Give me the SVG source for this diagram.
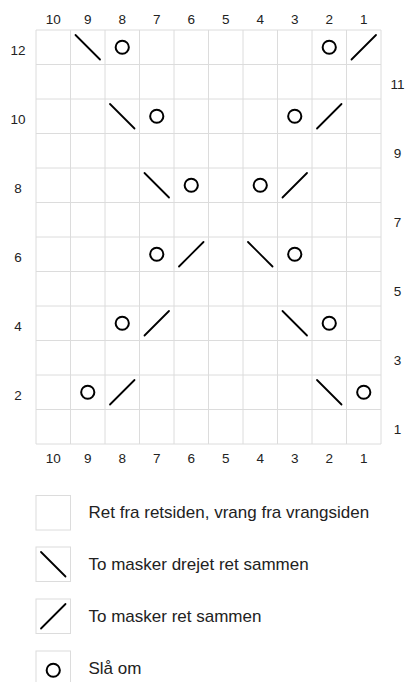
<svg xmlns="http://www.w3.org/2000/svg" width="406" height="682" viewBox="0 0 406 682">
<style>
.g{stroke:#dcdcdc;stroke-width:1;fill:none}
.s{stroke:#000;stroke-width:1.8;fill:none;stroke-linecap:round}
.o{stroke:#000;stroke-width:2;fill:none}
.n{font-family:"Liberation Sans",Arial,sans-serif;font-size:13.5px;fill:#222;text-anchor:middle}
.t{font-family:"Liberation Sans",Arial,sans-serif;font-size:17px;fill:#222}
</style>
<defs>
<path id="bs" class="s" d="M5,5 L29.5,29.5"/>
<path id="fs" class="s" d="M5,29.5 L29.5,5"/>
<circle id="yo" class="o" cx="17.25" cy="17.25" r="6.6"/>
</defs>
<rect width="406" height="682" fill="#fff"/>
<g id="grid">
<path class="g" d="M36,30H381M36,64.5H381M36,99H381M36,133.5H381M36,168H381M36,202.5H381M36,237H381M36,271.5H381M36,306H381M36,340.5H381M36,375H381M36,409.5H381M36,444H381"/>
<path class="g" d="M36,30V444M70.5,30V444M105,30V444M139.5,30V444M174,30V444M208.5,30V444M243,30V444M277.5,30V444M312,30V444M346.5,30V444M381,30V444"/>
</g>
<g id="col-labels-top">
<text class="n" x="53.25" y="24">10</text><text class="n" x="87.75" y="24">9</text><text class="n" x="122.25" y="24">8</text><text class="n" x="156.75" y="24">7</text><text class="n" x="191.25" y="24">6</text><text class="n" x="225.75" y="24">5</text><text class="n" x="260.25" y="24">4</text><text class="n" x="294.75" y="24">3</text><text class="n" x="329.25" y="24">2</text><text class="n" x="363.75" y="24">1</text>
</g>
<g id="col-labels-bottom">
<text class="n" x="53.25" y="463">10</text><text class="n" x="87.75" y="463">9</text><text class="n" x="122.25" y="463">8</text><text class="n" x="156.75" y="463">7</text><text class="n" x="191.25" y="463">6</text><text class="n" x="225.75" y="463">5</text><text class="n" x="260.25" y="463">4</text><text class="n" x="294.75" y="463">3</text><text class="n" x="329.25" y="463">2</text><text class="n" x="363.75" y="463">1</text>
</g>
<g id="row-labels">
<text class="n" x="18" y="54.75">12</text>
<text class="n" x="18" y="123.75">10</text>
<text class="n" x="18" y="192.75">8</text>
<text class="n" x="18" y="261.75">6</text>
<text class="n" x="18" y="330.75">4</text>
<text class="n" x="18" y="399.75">2</text>
<text class="n" x="397.5" y="89">11</text>
<text class="n" x="397.5" y="158">9</text>
<text class="n" x="397.5" y="227">7</text>
<text class="n" x="397.5" y="296">5</text>
<text class="n" x="397.5" y="365">3</text>
<text class="n" x="397.5" y="434">1</text>
</g>
<g id="stitches">
<use href="#bs" x="70.5" y="30"/><use href="#yo" x="105" y="30"/><use href="#yo" x="312" y="30"/><use href="#fs" x="346.5" y="30"/>
<use href="#bs" x="105" y="99"/><use href="#yo" x="139.5" y="99"/><use href="#yo" x="277.5" y="99"/><use href="#fs" x="312" y="99"/>
<use href="#bs" x="139.5" y="168"/><use href="#yo" x="174" y="168"/><use href="#yo" x="243" y="168"/><use href="#fs" x="277.5" y="168"/>
<use href="#yo" x="139.5" y="237"/><use href="#fs" x="174" y="237"/><use href="#bs" x="243" y="237"/><use href="#yo" x="277.5" y="237"/>
<use href="#yo" x="105" y="306"/><use href="#fs" x="139.5" y="306"/><use href="#bs" x="277.5" y="306"/><use href="#yo" x="312" y="306"/>
<use href="#yo" x="70.5" y="375"/><use href="#fs" x="105" y="375"/><use href="#bs" x="312" y="375"/><use href="#yo" x="346.5" y="375"/>
</g>
<g id="legend-knit">
<rect class="g" x="36" y="495.5" width="34.5" height="34.5"/>
<text class="t" x="88.5" y="517.5">Ret fra retsiden, vrang fra vrangsiden</text>
</g>
<g id="legend-ssk">
<rect class="g" x="36" y="547" width="34.5" height="34.5"/>
<use href="#bs" x="36" y="547"/>
<text class="t" x="88.5" y="570">To masker drejet ret sammen</text>
</g>
<g id="legend-k2tog">
<rect class="g" x="36" y="599" width="34.5" height="34.5"/>
<use href="#fs" x="36" y="599"/>
<text class="t" x="88.5" y="621.7">To masker ret sammen</text>
</g>
<g id="legend-yo">
<rect class="g" x="36" y="651" width="34.5" height="34.5"/>
<use href="#yo" x="36" y="653"/>
<text class="t" x="88.5" y="674">Slå om</text>
</g>
</svg>
